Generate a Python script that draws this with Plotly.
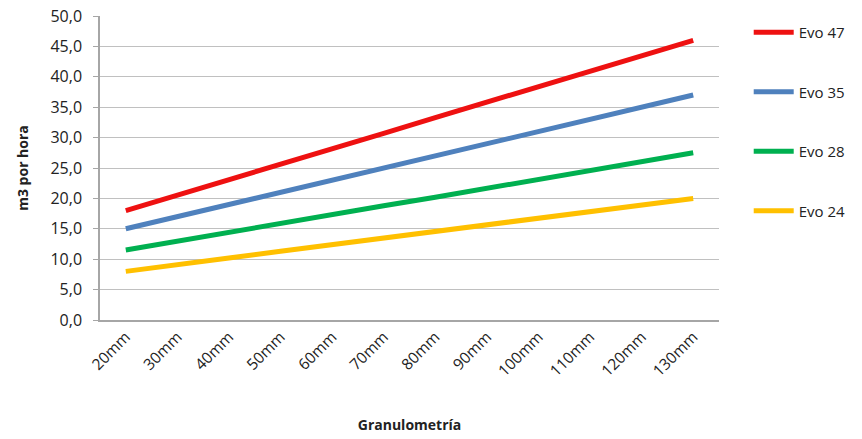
import plotly.graph_objects as go

categories = ["20mm", "30mm", "40mm", "50mm", "60mm", "70mm", "80mm", "90mm",
              "100mm", "110mm", "120mm", "130mm"]
evo47 = [18.0, 20.5, 23.0, 25.6, 28.2, 30.7, 33.3, 35.8, 38.4, 40.9, 43.5, 46.0]
evo35 = [15.0, 17.0, 19.0, 21.0, 23.0, 25.0, 27.0, 29.0, 31.0, 33.0, 35.0, 37.0]
evo28 = [11.5, 13.0, 14.5, 16.0, 17.3, 18.8, 20.2, 21.7, 23.2, 24.6, 26.0, 27.5]
evo24 = [8.0, 9.0, 10.2, 11.3, 12.4, 13.5, 14.5, 15.6, 16.7, 17.8, 18.9, 20.0]

series_names = ["Evo 47", "Evo 35", "Evo 28", "Evo 24"]
series_values = [evo47, evo35, evo28, evo24]
colors = ["#ee1111", "#4f81bd", "#00b050", "#ffc000"]

fig = go.Figure()
for name, vals, col in zip(series_names, series_values, colors):
    fig.add_trace(go.Scatter(x=categories, y=vals, name=name, mode="lines",
                             legendgroup=name,
                             line=dict(color=col, width=5)))

fig.update_layout(
    width=854, height=431,
    margin=dict(l=92, r=143, t=8, b=119),
    paper_bgcolor="white", plot_bgcolor="white",
    font=dict(family="Open Sans, Liberation Sans, sans-serif", size=14, color="#222"),
    separators=",.",
    legend=dict(x=1.048, y=1.0, xanchor="left", yanchor="top",
                traceorder="grouped", tracegroupgap=37,
                font=dict(size=15, color="#222"), itemwidth=40),
    xaxis=dict(type="category", range=[-0.5, 11.5], tickangle=-45, showgrid=False,
               showline=True, linecolor="#a6a6a6", linewidth=1.5,
               ticks="", tickfont=dict(size=15.5), automargin=False,
               title=dict(text="<b>Granulometría</b>", font=dict(size=14), standoff=40)),
    yaxis=dict(range=[0, 50], dtick=5, tickformat=".1f",
               showgrid=True, gridcolor="#c0c0c0", gridwidth=1.2,
               showline=True, linecolor="#a6a6a6", linewidth=1.5,
               ticks="outside", ticklen=5, tickcolor="#a6a6a6", ticklabelstandoff=8,
               ticklabeloverflow="allow",
               zeroline=False, tickfont=dict(size=16), automargin=False,
               title=dict(text="<b>m3 por hora</b>", font=dict(size=14), standoff=19)),
)

fig.write_html("out.html")
